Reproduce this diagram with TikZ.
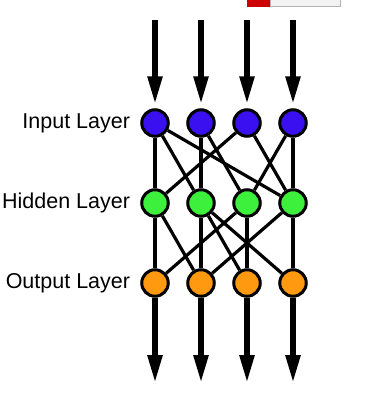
\documentclass[tikz,border=0pt]{standalone}
\usepackage{fontspec}
\setmainfont{Liberation Sans}
\usepackage{xcolor}
\usepackage{tikz}
\usetikzlibrary{arrows.meta, positioning}

\definecolor{inblue}{HTML}{3A10F0}
\definecolor{hidgreen}{HTML}{3CF03C}
\definecolor{outorange}{HTML}{FF9A10}

\begin{document}
\begin{tikzpicture}[
    x=1pt, y=-1pt,
    neuron/.style={circle,draw=black,line width=3pt,minimum size=26.5pt,inner sep=0pt},
    link/.style={line width=3.2pt,black},
    flow/.style={line width=5.5pt,black,->,>={Triangle[length=28pt,width=14pt]}},
    layer/.style={inner sep=0pt,font=\fontsize{21.5}{24}\selectfont}
]
\useasboundingbox (0,0) rectangle (365,397);

% Button at the top edge
\fill[red!80!black] (247,0) rectangle (270,6.5);
\draw[gray!60,fill=gray!10] (270,-1) rectangle (340,6.5);

% Neurons
\node[neuron,fill=inblue] (i1) at (155,123) {};
\node[neuron,fill=inblue] (i2) at (201,123) {};
\node[neuron,fill=inblue] (i3) at (247,123) {};
\node[neuron,fill=inblue] (i4) at (293,123) {};

\node[neuron,fill=hidgreen] (h1) at (155,203) {};
\node[neuron,fill=hidgreen] (h2) at (201,203) {};
\node[neuron,fill=hidgreen] (h3) at (247,203) {};
\node[neuron,fill=hidgreen] (h4) at (293,203) {};

\node[neuron,fill=outorange] (o1) at (155,283) {};
\node[neuron,fill=outorange] (o2) at (201,283) {};
\node[neuron,fill=outorange] (o3) at (247,283) {};
\node[neuron,fill=outorange] (o4) at (293,283) {};

% Labels
\node[layer,left=10pt of i1] (lin) {Input Layer};
\node[layer,left=10pt of h1] (lhid) {Hidden Layer};
\node[layer,left=10pt of o1] (lout) {Output Layer};

% Arrow ends
\coordinate (t1) at (155,20);
\coordinate (t2) at (201,20);
\coordinate (t3) at (247,20);
\coordinate (t4) at (293,20);
\coordinate (b1) at (155,383);
\coordinate (b2) at (201,383);
\coordinate (b3) at (247,383);
\coordinate (b4) at (293,383);

% Input to hidden
\draw[link] (i1) -- (h1);
\draw[link] (i1) -- (h2);
\draw[link] (i1) -- (h4);
\draw[link] (i2) -- (h2);
\draw[link] (i2) -- (h3);
\draw[link] (i3) -- (h1);
\draw[link] (i3) -- (h4);
\draw[link] (i4) -- (h3);
\draw[link] (i4) -- (h4);

% Hidden to output
\draw[link] (h1) -- (o1);
\draw[link] (h1) -- (o2);
\draw[link] (h2) -- (o2);
\draw[link] (h2) -- (o3);
\draw[link] (h2) -- (o4);
\draw[link] (h3) -- (o1);
\draw[link] (h3) -- (o3);
\draw[link] (h4) -- (o2);
\draw[link] (h4) -- (o4);

% Data in and out
\draw[flow,shorten >=4pt] (t1) -- (i1);
\draw[flow,shorten >=4pt] (t2) -- (i2);
\draw[flow,shorten >=4pt] (t3) -- (i3);
\draw[flow,shorten >=4pt] (t4) -- (i4);
\draw[flow] (o1) -- (b1);
\draw[flow] (o2) -- (b2);
\draw[flow] (o3) -- (b3);
\draw[flow] (o4) -- (b4);

\end{tikzpicture}
\end{document}
